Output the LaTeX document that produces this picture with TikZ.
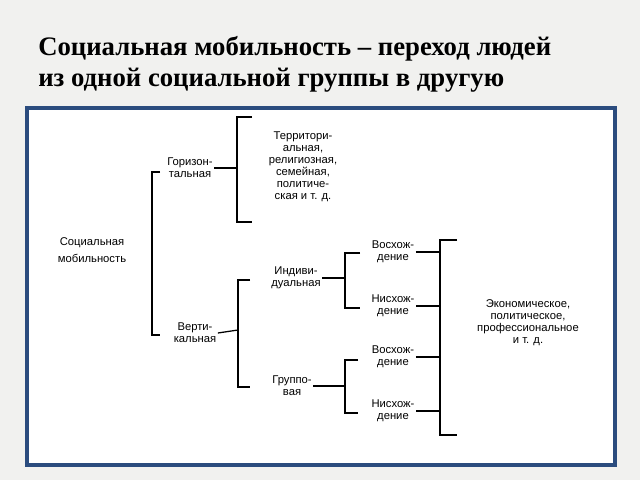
\documentclass[tikz,border=0pt]{standalone}
\usepackage{fontspec}
\setmainfont{Liberation Serif}
\newfontfamily\diagfont{Liberation Sans}
\usetikzlibrary{positioning}
\definecolor{framecol}{HTML}{2B4C7E}
\definecolor{pagecol}{HTML}{F1F1EF}
\tikzset{
  lbl/.style={font=\diagfont\fontsize{8}{8.6}\selectfont,align=center,inner sep=1pt},
  brk/.style={line width=0.9pt},
}
\begin{document}
\begin{tikzpicture}[x=0.025cm,y=-0.025cm]
\fill[pagecol] (0,0) rectangle (640,480);
\fill[white] (27,108) rectangle (615,465);
\draw[framecol,line width=3.5pt] (27,108) rectangle (615,465);
% title
\node[anchor=base west,font=\bfseries\fontsize{19}{22}\selectfont,inner sep=0pt] (title1) at (38,55) {Социальная мобильность – переход людей};
\node[anchor=base west,font=\bfseries\fontsize{19}{22}\selectfont,inner sep=0pt] (title2) at (38,87) {из одной социальной группы в другую};
% nodes
\node[lbl] (soc) at (92,250) {Социальная\\[4pt]мобильность};
\node[lbl] (hor) at (190,168) {Горизон-\\тальная};
\node[lbl] (ver) at (195,333) {Верти-\\кальная};
\node[lbl] (terr) at (303,167) {Территори-\\альная,\\религиозная,\\семейная,\\политиче-\\ская и т. д.};
\node[lbl] (ind) at (296,278) {Индиви-\\дуальная};
\node[lbl] (grp) at (292,386) {Группо-\\вая};
\node[lbl] (up1) at (393,252) {Восхож-\\дение};
\node[lbl] (dn1) at (393,306) {Нисхож-\\дение};
\node[lbl] (up2) at (393,357) {Восхож-\\дение};
\node[lbl] (dn2) at (393,411) {Нисхож-\\дение};
\node[lbl] (econ) at (528,323) {Экономическое,\\политическое,\\профессиональное\\и т. д.};
\coordinate (bigx) at (440,0);
% brackets
\draw[brk] (160,172) -- (152,172) -- (152,335) -- (160,335);
\draw[brk] (252,117) -- (237,117) -- (237,222) -- (252,222);
\draw[brk] (hor.east) -- (237,168);
\draw[brk] (250,280) -- (238,280) -- (238,387) -- (250,387);
\draw[brk] (ver.east) -- (238,330);
\draw[brk] (360,253) -- (345,253) -- (345,308) -- (360,308);
\draw[brk] (ind.east) -- (345,278);
\draw[brk] (358,360) -- (345,360) -- (345,413) -- (358,413);
\draw[brk] (grp.east) -- (345,386);
\draw[brk] (457,240) -- (440,240) -- (440,435) -- (457,435);
\foreach \n in {up1,dn1,up2,dn2}
  \draw[brk] (\n.east) -- (\n.east -| bigx);
\end{tikzpicture}
\end{document}
